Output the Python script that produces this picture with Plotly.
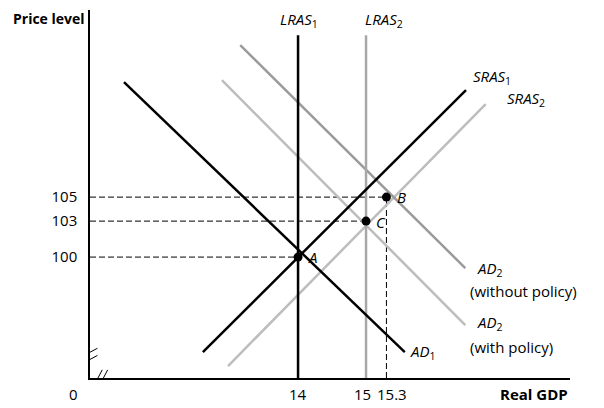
import plotly.graph_objects as go

# curve endpoints in (Real GDP, price level) units
lras1_x = [14, 14]
lras1_y = [89.9, 118.5]
lras2_x = [15, 15]
lras2_y = [89.9, 118.5]
ad1_x = [11.44, 15.57]
ad1_y = [114.58, 92.08]
ad2_nopol_x = [13.15, 16.46]
ad2_nopol_y = [117.67, 99.08]
ad2_pol_x = [12.88, 16.46]
ad2_pol_y = [114.75, 94.33]
sras1_x = [12.60, 16.47]
sras1_y = [92.08, 113.92]
sras2_x = [12.97, 16.76]
sras2_y = [90.92, 112.75]

pt_names = ["A", "B", "C"]
pt_x = [14, 15.3, 15]
pt_y = [100, 105, 103]

x_ticks = [14, 15, 15.3]
y_ticks = [100, 103, 105]

X0, Y0 = 10.94, 89.92
BLACK, GRAY, LIGHT = "#000000", "#9a9a9a", "#bdbdbd"

fig = go.Figure()

def line(x, y, color):
    fig.add_trace(go.Scatter(x=x, y=y, mode="lines", showlegend=False,
                             line=dict(color=color, width=2.5), hoverinfo="skip"))

# dashed guides
DASH = dict(color="black", width=1, dash="6px,3px")
for px, py in zip(pt_x, pt_y):
    fig.add_trace(go.Scatter(x=[X0, px], y=[py, py], mode="lines", showlegend=False, line=DASH))
fig.add_trace(go.Scatter(x=[15.3, 15.3], y=[Y0, 105], mode="lines", showlegend=False, line=DASH))

line(ad2_pol_x, ad2_pol_y, LIGHT)
line(sras2_x, sras2_y, LIGHT)
line(ad2_nopol_x, ad2_nopol_y, GRAY)
line(lras2_x, lras2_y, "#a8a8a8")
line(ad1_x, ad1_y, BLACK)
line(sras1_x, sras1_y, BLACK)
line(lras1_x, lras1_y, BLACK)

fig.add_trace(go.Scatter(x=pt_x, y=pt_y, mode="markers", showlegend=False,
                         marker=dict(color="black", size=9)))

F = dict(family="Open Sans, Liberation Sans, sans-serif", size=15, color="black")
ann = [
    (pt_x[0] + 0.12, pt_y[0], "<i>A</i>", "left"),
    (pt_x[1] + 0.12, pt_y[1], "<i>B</i>", "left"),
    (pt_x[2] + 0.12, pt_y[2] - 0.1, "<i>C</i>", "left"),
    (13.7, 119.8, "<i>LRAS</i><sub>1</sub>", "left"),
    (14.95, 119.8, "<i>LRAS</i><sub>2</sub>", "left"),
    (16.55, 115.0, "<i>SRAS</i><sub>1</sub>", "left"),
    (17.05, 113.2, "<i>SRAS</i><sub>2</sub>", "left"),
    (16.6, 99.0, "<i>AD</i><sub>2</sub>", "left"),
    (16.5, 97.2, "(without policy)", "left"),
    (16.6, 94.5, "<i>AD</i><sub>2</sub>", "left"),
    (16.5, 92.5, "(with policy)", "left"),
    (15.62, 92.1, "<i>AD</i><sub>1</sub>", "left"),
]
for x, y, t, a in ann:
    fig.add_annotation(x=x, y=y, text=t, showarrow=False, xanchor=a, font=F)

# x tick labels, nudged apart where they crowd
for v, shift in zip(x_ticks, [0, -4, 6]):
    fig.add_annotation(x=v, y=0, yref="paper", text=str(v), showarrow=False,
                       yanchor="top", yshift=-4, xshift=shift, font=F)

fig.add_annotation(xref="paper", yref="paper", x=-0.165, y=1.0, yshift=3,
                   text="<b>Price level</b>", showarrow=False, xanchor="left",
                   yanchor="top", font=dict(F, size=14))
fig.add_annotation(xref="paper", yref="paper", x=1.0, y=0, yshift=-4, text="<b>Real GDP</b>",
                   showarrow=False, xanchor="right", yanchor="top", font=F)
fig.add_annotation(xref="paper", yref="paper", x=-0.02, y=0, yshift=-4, text="0",
                   showarrow=False, xanchor="right", yanchor="top", font=F)

# axis break marks
for dx in (0, 0.08):
    fig.add_shape(type="line", x0=11.0 + dx, y0=89.3, x1=11.12 + dx, y1=90.6,
                  line=dict(color="black", width=1))
for dy in (0, 0.6):
    fig.add_shape(type="line", x0=10.85, y0=91.2 + dy, x1=11.05, y1=91.8 + dy,
                  line=dict(color="black", width=1))

fig.update_xaxes(range=[X0, 18.0], showgrid=False, zeroline=False, showline=True,
                 linecolor="black", linewidth=1.5, showticklabels=False, ticks="",
                 automargin=False)
fig.update_yaxes(range=[Y0, 120.6], showgrid=False, zeroline=False, showline=True,
                 linecolor="black", linewidth=1.5, tickvals=y_ticks,
                 ticktext=[str(v) for v in y_ticks], ticks="", tickfont=F,
                 ticklabelstandoff=8, automargin=False)
fig.update_layout(width=588, height=392, plot_bgcolor="white", paper_bgcolor="white",
                  margin=dict(l=82, r=26, t=2, b=22))
fig.write_html("out.html")
